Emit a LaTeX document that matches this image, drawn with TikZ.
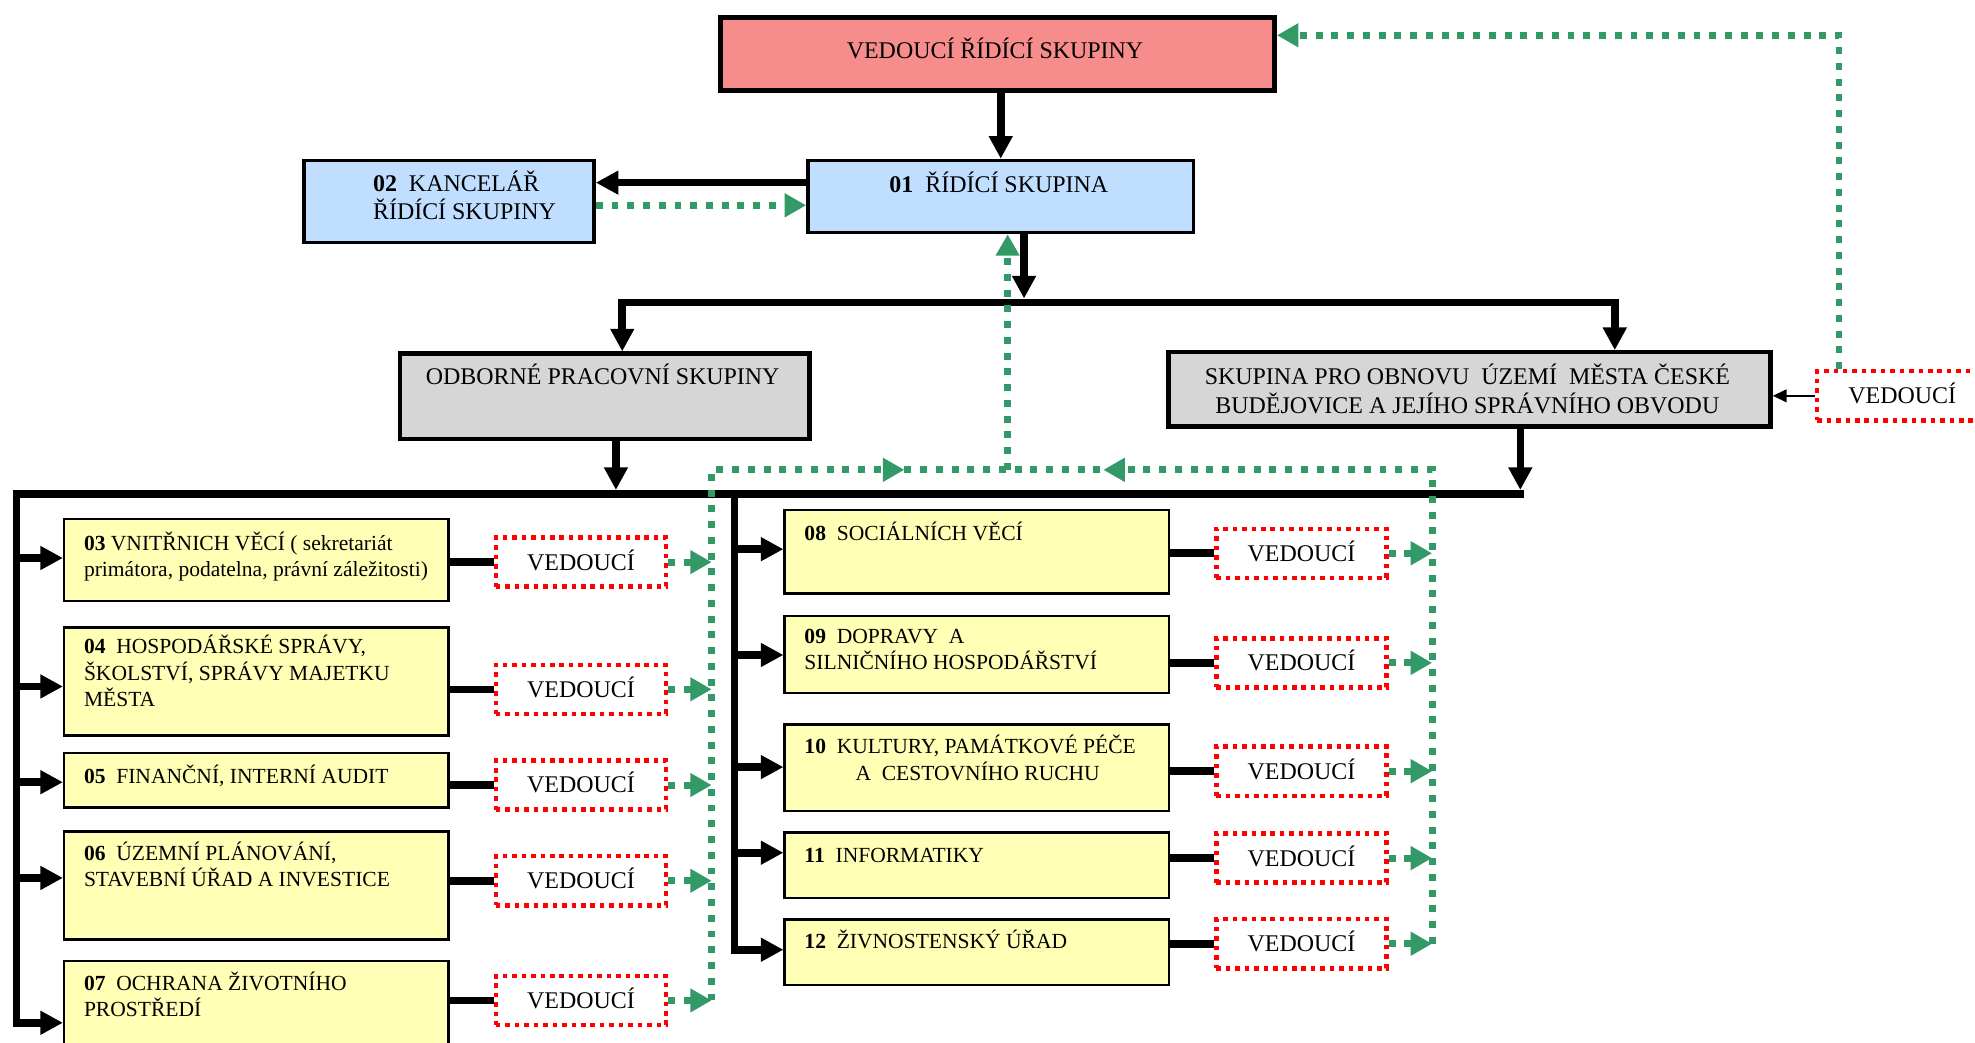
\documentclass[tikz,border=0pt]{standalone}
\usepackage{fontspec}
\setmainfont{Liberation Serif}
\usetikzlibrary{arrows.meta}
\definecolor{grn}{RGB}{51,153,102}
\definecolor{redfill}{RGB}{246,140,140}
\definecolor{bluefill}{RGB}{192,222,255}
\definecolor{grayfill}{RGB}{214,214,214}
\definecolor{yelfill}{RGB}{255,255,182}
\tikzset{
  bigbox/.style={draw=black, line width=3.4pt, inner sep=0pt, anchor=north west},
  deptbox/.style={draw=black, line width=2pt, fill=yelfill, inner sep=0pt, anchor=north west, minimum width=305pt},
  vedbox/.style={draw=red, line width=3.5pt, dash pattern=on 3.6pt off 3.9pt, inner sep=0pt, anchor=north west,
     minimum width=135pt, minimum height=39pt, font=\fontsize{19}{22}\selectfont, text height=12.6pt, text depth=0pt},
  tbig/.style={inner sep=0pt, font=\fontsize{19}{21.5}\selectfont},
  tdept/.style={inner sep=0pt, anchor=base west, font=\fontsize{17.1}{20.6}\selectfont},
  blk/.style={draw=black, line width=6pt, line cap=rect, -{Triangle[length=18pt,width=18pt]}},
  blkline/.style={draw=black, line width=6pt, line cap=rect},
  conn/.style={draw=black, line width=6pt},
  thinarr/.style={draw=black, line width=1.6pt, -{Triangle[length=11pt,width=10pt]}},
  grnarr/.style={draw=grn, line width=5.5pt, dash pattern=on 5.5pt off 7pt, -{Triangle[length=17pt,width=18pt]}},
  grnline/.style={draw=grn, line width=5.5pt, dash pattern=on 5.5pt off 7pt}
}
\begin{document}
\begin{tikzpicture}[x=1pt,y=-1pt]
\useasboundingbox (0,0) rectangle (1568,828);
\fill[white] (0,0) rectangle (1568,828);

% ---------- top boxes ----------
\node[bigbox, fill=redfill, line width=3.8pt, minimum width=440pt, minimum height=58pt] (lead) at (570,12) {};
\node[bigbox, fill=bluefill, line width=3pt, minimum width=306pt, minimum height=57pt] (n01) at (640,126) {};
\node[bigbox, fill=bluefill, line width=3pt, minimum width=230pt, minimum height=65pt] (n02) at (240,126) {};
\node[bigbox, fill=grayfill, minimum width=325pt, minimum height=68pt] (odb) at (316,279) {};
\node[bigbox, fill=grayfill, minimum width=478pt, minimum height=59pt] (sku) at (926,278) {};
\node[vedbox] (vtop) at (1441,293) {VEDOUCÍ};

\node[tbig, anchor=base] (leadt) at (790,46.3) {VEDOUCÍ ŘÍDÍCÍ SKUPINY};
\node[tbig, anchor=base] (n01t) at (793,153) {\textbf{01}\ \ ŘÍDÍCÍ SKUPINA};
\node[tbig, anchor=base west] (n02t) at (296,152) {\fontsize{19}{21}\selectfont\begin{tabular}[t]{@{}l@{}}\textbf{02}\ \ KANCELÁŘ\\ŘÍDÍCÍ SKUPINY\end{tabular}};
\node[tbig, anchor=base] (odbt) at (478.5,305.5) {ODBORNÉ PRACOVNÍ SKUPINY};
\node[tbig, anchor=base] (skut) at (1165,305.5) {\begin{tabular}[t]{@{}c@{}}SKUPINA PRO OBNOVU\ \ ÚZEMÍ\ \ MĚSTA ČESKÉ\\BUDĚJOVICE A JEJÍHO SPRÁVNÍHO OBVODU\end{tabular}};

% ---------- department boxes ----------
\node[deptbox, minimum height=65pt] (d03) at (50,411) {};
\node[deptbox, minimum height=86pt] (d04) at (50,497) {};
\node[deptbox, minimum height=43pt] (d05) at (50,597) {};
\node[deptbox, minimum height=86pt] (d06) at (50,659) {};
\node[deptbox, minimum height=90pt] (d07) at (50,762) {};
\node[deptbox, minimum height=66pt] (d08) at (622,404) {};
\node[deptbox, minimum height=61pt] (d09) at (622,488) {};
\node[deptbox, minimum height=69pt] (d10) at (622,574) {};
\node[deptbox, minimum height=52pt] (d11) at (622,660) {};
\node[deptbox, minimum height=52pt] (d12) at (622,729) {};

\node[tdept] (t03) at (66.5,437) {\begin{tabular}[t]{@{}l@{}}\textbf{03} VNITŘNICH VĚCÍ ( sekretariát\\primátora, podatelna, právní záležitosti)\end{tabular}};
\node[tdept] (t04) at (66.5,519) {\begin{tabular}[t]{@{}l@{}}\textbf{04}\ \ HOSPODÁŘSKÉ SPRÁVY,\\ŠKOLSTVÍ, SPRÁVY MAJETKU\\MĚSTA\end{tabular}};
\node[tdept] (t05) at (66.5,622.2) {\textbf{05}\ \ FINANČNÍ, INTERNÍ AUDIT};
\node[tdept] (t06) at (66.5,683.1) {\begin{tabular}[t]{@{}l@{}}\textbf{06}\ \ ÚZEMNÍ PLÁNOVÁNÍ,\\STAVEBNÍ ÚŘAD A INVESTICE\end{tabular}};
\node[tdept] (t07) at (66.5,786.3) {\begin{tabular}[t]{@{}l@{}}\textbf{07}\ \ OCHRANA ŽIVOTNÍHO\\PROSTŘEDÍ\end{tabular}};
\node[tdept] (t08) at (638.5,429) {\textbf{08}\ \ SOCIÁLNÍCH VĚCÍ};
\node[tdept] (t09) at (638.5,511) {\begin{tabular}[t]{@{}l@{}}\textbf{09}\ \ DOPRAVY\ \ A\\SILNIČNÍHO HOSPODÁŘSTVÍ\end{tabular}};
\node[tdept] (t10) at (638.5,598.4) {\begin{tabular}[t]{@{}l@{}}\textbf{10}\ \ KULTURY, PAMÁTKOVÉ PÉČE\\\hspace*{40.5pt}A\ \ CESTOVNÍHO RUCHU\end{tabular}};
\node[tdept] (t11) at (638.5,684.4) {\textbf{11}\ \ INFORMATIKY};
\node[tdept] (t12) at (638.5,753.2) {\textbf{12}\ \ ŽIVNOSTENSKÝ ÚŘAD};

% ---------- VEDOUCÍ boxes ----------
\node[vedbox] (v03) at (392,425) {VEDOUCÍ};
\node[vedbox] (v04) at (392,526) {VEDOUCÍ};
\node[vedbox] (v05) at (392,602) {VEDOUCÍ};
\node[vedbox] (v06) at (392,678) {VEDOUCÍ};
\node[vedbox] (v07) at (392,773) {VEDOUCÍ};
\node[vedbox] (v08) at (964,418) {VEDOUCÍ};
\node[vedbox] (v09) at (964,505) {VEDOUCÍ};
\node[vedbox] (v10) at (964,591) {VEDOUCÍ};
\node[vedbox] (v11) at (964,660) {VEDOUCÍ};
\node[vedbox] (v12) at (964,728) {VEDOUCÍ};

% ---------- coordinates ----------
\coordinate (tb1) at (494,240);
\coordinate (tb2) at (1282,240);
\coordinate (busR) at (1207,392);
\coordinate (busL) at (13,392);
\coordinate (leftEnd) at (13,812);
\coordinate (rv) at (583,392);
\coordinate (rvEnd) at (583,754);
\coordinate (gL) at (565,373);
\coordinate (gR) at (1137,373);
\coordinate (gM) at (800,373);
\coordinate (tipA) at (718,373);
\coordinate (tipB) at (876,373);

% ---------- black connectors ----------
\draw[blk] (lead.south -| n01.north) -- (n01.north);
\draw[blk] (n01.west |- 0,145) -- (n02.east |- 0,145);
\draw[blk, shorten >=3pt] (n01.south -| 813,0) -- (tb1 -| 813,0);
\draw[blk] (tb1) -- (tb2) -- (tb2 |- sku.north);
\draw[blk] (tb1) -- (tb1 |- odb.north);
\draw[blk, shorten >=3pt] (odb.south -| 489,0) -- (busL -| 489,0);
\draw[blk, shorten >=3pt] (sku.south -| busR) -- (busR);
\draw[thinarr] (vtop.west) -- (sku.east |- vtop.west);

\draw[blk] (busR) -- (busL) -- (leftEnd) -- (d07.west |- leftEnd);
\draw[blk] (busL |- 0,443) -- (d03.west |- 0,443);
\draw[blk] (busL |- 0,545) -- (d04.west |- 0,545);
\draw[blk] (busL |- 0,621) -- (d05.west |- 0,621);
\draw[blk] (busL |- 0,697) -- (d06.west |- 0,697);

\draw[blk] (rv) -- (rvEnd) -- (d12.west |- rvEnd);
\draw[blk] (rv |- 0,436) -- (d08.west |- 0,436);
\draw[blk] (rv |- 0,520) -- (d09.west |- 0,520);
\draw[blk] (rv |- 0,609) -- (d10.west |- 0,609);
\draw[blk] (rv |- 0,677) -- (d11.west |- 0,677);

\foreach \d/\v in {d03/v03,d04/v04,d05/v05,d06/v06,d07/v07,d08/v08,d09/v09,d10/v10,d11/v11,d12/v12}
  \draw[conn] (\d.east |- \v.west) -- (\v.west);

% ---------- green dotted connectors ----------
\draw[grnarr] (n02.east |- 0,163) -- (n01.west |- 0,163);
\draw[grnarr] (vtop.north -| 1460,0) |- (lead.east |- 0,28);
\draw[grnarr] (v07.east -| gL) |- (tipA);
\draw[grnarr] (v12.east -| gR) |- (tipB);
\draw[grnline] (tipA) -- (tipB);
\draw[grnarr] (gM) -- (n01.south -| gM);
\foreach \v in {v03,v04,v05,v06,v07}
  \draw[grnarr] (\v.east) -- (\v.east -| gL);
\foreach \v in {v08,v09,v10,v11,v12}
  \draw[grnarr] (\v.east) -- (\v.east -| gR);
\end{tikzpicture}
\end{document}
